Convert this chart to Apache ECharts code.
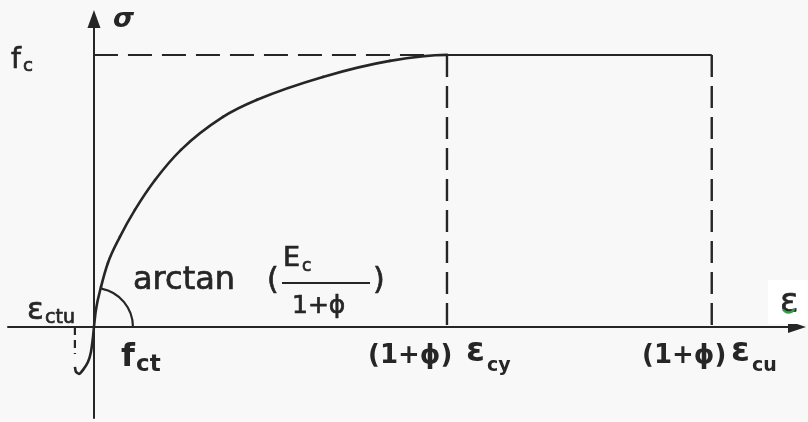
<!DOCTYPE html>
<html>
<head>
<meta charset="utf-8">
<script src="https://cdn.jsdelivr.net/npm/echarts@6/dist/echarts.min.js"></script>
<style>
  html, body { margin: 0; padding: 0; background: #f8f8f8; }
  #chart { width: 808px; height: 422px; }
</style>
</head>
<body>
<div id="chart"></div>
<script>
// Concrete stress-strain law with creep: stress normalised to f_c,
// strain in units where (1+phi)*eps_cy = 2.0 and (1+phi)*eps_cu = 3.5
const fc = 1.0;
const strainCy = 2.0;
const strainCu = 3.5;
const strainCtu = -0.108;
const strainCtuMarkEnd = -0.10;

// ascending compression branch, origin to the peak at (strainCy, fc)
const compStrain = [0, 0.011, 0.040, 0.079, 0.147, 0.232, 0.346, 0.493, 0.731, 0.924, 1.297, 1.677, 2.0];
const compStress = [0, 0.062, 0.147, 0.235, 0.331, 0.430, 0.540, 0.651, 0.772, 0.835, 0.919, 0.978, 1.0];

// short tension branch below the origin, ending in a small hook
const tensStrain = [0, -0.006, -0.017, -0.034, -0.062, -0.085, -0.102, -0.108];
const tensStress = [0, -0.040, -0.092, -0.129, -0.158, -0.173, -0.165, -0.147];

// axis ranges
const xMin = -0.487, xMax = 3.983;
const yMin = -0.335, yMax = 1.132;

const ink = '#262626';
const pair = (xs, ys) => xs.map((v, i) => [v, ys[i]]);

const chart = echarts.init(document.getElementById('chart'), null, { renderer: 'canvas' });

// Monotone cubic (Fritsch-Carlson) bezier segments through pixel points,
// with a horizontal tangent at the peak.
function monotoneSegments(P) {
  const n = P.length;
  const d = [], m = [];
  for (let k = 0; k < n - 1; k++) d.push((P[k + 1][1] - P[k][1]) / (P[k + 1][0] - P[k][0]));
  m[0] = d[0];
  for (let k = 1; k < n - 1; k++) m[k] = (d[k - 1] * d[k] <= 0) ? 0 : (d[k - 1] + d[k]) / 2;
  m[n - 1] = 0;
  for (let k = 0; k < n - 1; k++) {
    if (d[k] === 0) { m[k] = 0; m[k + 1] = 0; continue; }
    const a = m[k] / d[k], b = m[k + 1] / d[k], s = a * a + b * b;
    if (s > 9) { const t = 3 / Math.sqrt(s); m[k] = t * a * d[k]; m[k + 1] = t * b * d[k]; }
  }
  const segs = [];
  for (let k = 0; k < n - 1; k++) {
    const h = (P[k + 1][0] - P[k][0]) / 3;
    segs.push({
      type: 'bezierCurve',
      shape: {
        x1: P[k][0], y1: P[k][1], x2: P[k + 1][0], y2: P[k + 1][1],
        cpx1: P[k][0] + h, cpy1: P[k][1] + m[k] * h,
        cpx2: P[k + 1][0] - h, cpy2: P[k + 1][1] - m[k + 1] * h
      },
      style: { stroke: ink, lineWidth: 2.6, fill: null, lineCap: 'round' }
    });
  }
  return segs;
}

const FONT = '"DejaVu Sans", sans-serif';
function txt(x, y, text, size, weight, style) {
  return {
    type: 'text', x: x, y: y, z: 10,
    style: {
      text: text, fill: ink, fontFamily: FONT, fontSize: size,
      fontWeight: weight || 'normal', fontStyle: style || 'normal',
      stroke: weight === 'bold' ? null : ink, lineWidth: weight === 'bold' ? 0 : 0.7,
      align: 'left', verticalAlign: 'middle'
    }
  };
}

const option = {
  backgroundColor: '#f8f8f8',
  animation: false,
  grid: { left: 8, right: 11, top: 19, bottom: 4, containLabel: false },
  xAxis: {
    type: 'value', min: xMin, max: xMax,
    axisLine: { show: true, onZero: true, symbol: ['none', 'triangle'], symbolSize: [12, 18],
      lineStyle: { color: ink, width: 2 } },
    axisTick: { show: false }, axisLabel: { show: false }, splitLine: { show: false }
  },
  yAxis: {
    type: 'value', min: yMin, max: yMax,
    axisLine: { show: true, onZero: true, symbol: ['none', 'triangle'], symbolSize: [13, 18],
      lineStyle: { color: ink, width: 2 } },
    axisTick: { show: false }, axisLabel: { show: false }, splitLine: { show: false }
  },
  series: [
    {
      name: 'compression', type: 'custom', data: pair(compStrain, compStress), z: 5,
      renderItem: function (params, api) {
        if (params.dataIndex !== 0) return null;
        const pts = compStrain.map((v, i) => api.coord([v, compStress[i]]));
        return { type: 'group', children: monotoneSegments(pts) };
      }
    },
    {
      name: 'tension', type: 'line', smooth: 0.2, symbol: 'none',
      data: pair(tensStrain, tensStress),
      lineStyle: { color: ink, width: 2.6 }, z: 5
    },
    {
      name: 'fc level', type: 'line', symbol: 'none',
      data: [[0, fc], [strainCy, fc]],
      lineStyle: { color: ink, width: 2, type: [24, 10] }
    },
    {
      name: 'plateau', type: 'line', symbol: 'none',
      data: [[strainCy, fc], [strainCu, fc]],
      lineStyle: { color: ink, width: 2 }
    },
    {
      name: 'eps cy', type: 'line', symbol: 'none',
      data: [[strainCy, fc], [strainCy, 0]],
      lineStyle: { color: ink, width: 2.4, type: [22, 9] }
    },
    {
      name: 'eps cu', type: 'line', symbol: 'none',
      data: [[strainCu, fc], [strainCu, 0]],
      lineStyle: { color: ink, width: 2.4, type: [22, 9] }
    },
    {
      name: 'eps ctu', type: 'line', symbol: 'none',
      data: [[strainCtu, 0], [strainCtu, strainCtuMarkEnd]],
      lineStyle: { color: ink, width: 2.2, type: [8, 5] }
    },
    {
      // angle mark of the initial tangent at the origin
      name: 'tangent angle', type: 'custom', data: [[0, 0]],
      renderItem: function (params, api) {
        const c = api.coord([api.value(0), api.value(1)]);
        return {
          type: 'arc',
          shape: { cx: c[0], cy: c[1], r: 39, startAngle: -79 * Math.PI / 180, endAngle: 0, clockwise: true },
          style: { stroke: ink, lineWidth: 2.2, fill: null }
        };
      }
    }
  ],
  graphic: [
    // clean patch behind the strain axis symbol
    { type: 'rect', z: 1, shape: { x: 768, y: 280, width: 40, height: 44 }, style: { fill: '#ffffff' } },
    txt(113, 20, 'σ', 27, 'bold', 'italic'),
    txt(11, 61, 'f', 28),
    txt(23, 66.5, 'c', 18),
    txt(27, 311, 'ε', 31),
    txt(45, 318, 'ctu', 19),
    txt(121, 358, 'f', 32, 'bold'),
    txt(136, 365.5, 'ct', 23, 'bold'),
    txt(133, 281, 'arctan', 32),
    txt(267, 281, '(', 30),
    txt(283, 259, 'E', 27),
    txt(302, 266.5, 'c', 17),
    {
      type: 'line', z: 10,
      shape: { x1: 282, y1: 283, x2: 370, y2: 283 },
      style: { stroke: ink, lineWidth: 2 }
    },
    txt(292, 306, '1+ϕ', 25),
    txt(373, 281, ')', 30),
    txt(368, 356, '(1+ϕ)', 26, 'bold'),
    txt(466, 352, 'ε', 34, 'bold'),
    txt(487, 366, 'cy', 19, 'bold'),
    txt(642, 356, '(1+ϕ)', 26, 'bold'),
    txt(731, 352, 'ε', 34, 'bold'),
    txt(752, 366, 'cu', 19, 'bold'),
    txt(780, 303, 'ε', 34),
    {
      type: 'arc', z: 11,
      shape: { cx: 788.5, cy: 306, r: 6.5, startAngle: 25 * Math.PI / 180, endAngle: 150 * Math.PI / 180, clockwise: true },
      style: { stroke: '#2fa040', lineWidth: 2.4, fill: null }
    }
  ]
};

chart.setOption(option);
</script>
</body>
</html>
